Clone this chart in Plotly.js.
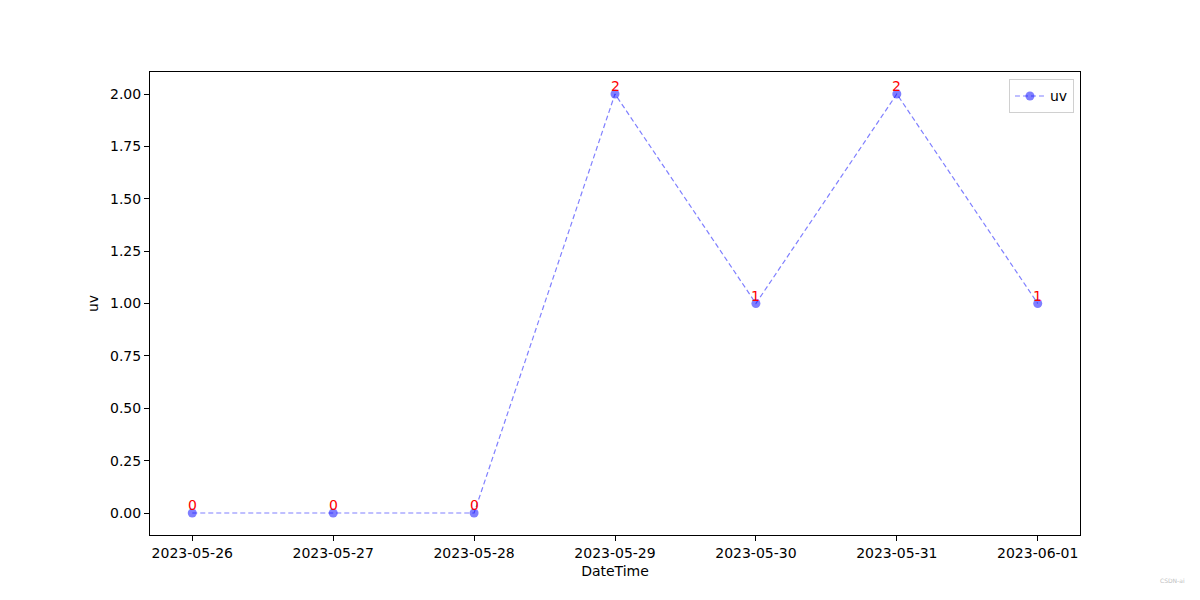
<!DOCTYPE html>
<html>
<head>
<meta charset="utf-8">
<script src="https://cdn.plot.ly/plotly-3.0.1.min.js"></script>
<style>body{margin:0;background:#fff}#chart{width:1200px;height:600px}</style>
</head>
<body>
<div id="chart"></div>
<script>
const dates = ['2023-05-26','2023-05-27','2023-05-28','2023-05-29','2023-05-30','2023-05-31','2023-06-01'];
const uv = [0, 0, 0, 2, 1, 2, 1];
const yTicks = [0, 0.25, 0.5, 0.75, 1.0, 1.25, 1.5, 1.75, 2.0];
const yTickText = ['0.00','0.25','0.50','0.75','1.00','1.25','1.50','1.75','2.00'];

const font = {family: 'DejaVu Sans', size: 14, color: '#000'};

const trace = {
  x: dates, y: uv, name: 'uv', type: 'scatter', mode: 'lines+markers',
  line: {color: 'rgba(0,0,255,0.5)', width: 1.2, dash: '5px,3px'},
  marker: {color: 'rgba(0,0,255,0.5)', size: 9},
  hoverinfo: 'skip'
};

const annotations = dates.map((d, i) => ({
  x: d, y: uv[i], text: String(uv[i]), showarrow: false,
  xanchor: 'center', yanchor: 'bottom', yshift: -2,
  font: {family: 'DejaVu Sans', size: 14, color: 'red'}
}));
annotations.push({
  xref: 'paper', yref: 'paper', x: 1.115, y: -0.11, xanchor: 'right', yanchor: 'bottom',
  text: 'CSDN-ai', showarrow: false, font: {family: 'DejaVu Sans', size: 6, color: '#c0c0c0'}
});

const layout = {
  width: 1200, height: 600,
  margin: {l: 150, r: 120, t: 72, b: 65},
  paper_bgcolor: '#fff', plot_bgcolor: '#fff',
  font: font,
  showlegend: true,
  legend: {
    x: 0.9935, y: 0.984, xanchor: 'right', yanchor: 'top',
    bgcolor: 'rgba(255,255,255,0.8)', bordercolor: '#d0d0d0', borderwidth: 1,
    font: font, itemwidth: 30
  },
  xaxis: {
    type: 'date',
    range: ['2023-05-25 16:48', '2023-06-01 07:12'],
    tickvals: dates, ticktext: dates,
    ticks: 'outside', ticklen: 5, tickcolor: '#000',
    showline: true, linecolor: '#000', linewidth: 1, mirror: true,
    showgrid: false, zeroline: false,
    tickfont: font,
    title: {text: 'DateTime', font: font, standoff: 6}
  },
  yaxis: {
    range: [-0.105, 2.105],
    tickvals: yTicks, ticktext: yTickText,
    ticks: 'outside', ticklen: 5, tickcolor: '#000',
    showline: true, linecolor: '#000', linewidth: 1, mirror: true,
    showgrid: false, zeroline: false,
    tickfont: font,
    title: {text: 'uv', font: font, standoff: 8}
  },
  annotations: annotations
};

Plotly.newPlot('chart', [trace], layout, {displayModeBar: false, staticPlot: true});
</script>
</body>
</html>
